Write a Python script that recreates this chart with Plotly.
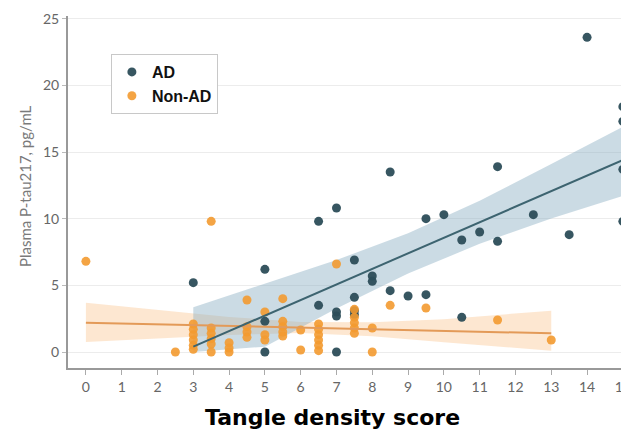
import plotly.graph_objects as go

# ---- data ----
ad_x = [3, 5, 5, 5, 6.5, 6.5, 7, 7, 7, 7, 7.5, 7.5, 7.5, 7.5, 8, 8, 8.5, 8.5, 9, 9.5,
        9.5, 10, 10.5, 10.5, 11, 11.5, 11.5, 12.5, 13.5, 14, 15, 15, 15, 15]
ad_y = [5.2, 6.2, 2.3, 0.0, 3.5, 9.8, 10.8, 3.0, 2.7, 0.0, 6.9, 4.1, 2.8, 3.1, 5.7, 5.3, 4.6, 13.5, 4.2, 4.3,
        10.0, 10.3, 8.4, 2.6, 9.0, 8.3, 13.9, 10.3, 8.8, 23.6, 18.4, 17.3, 13.7, 9.8]

nonad_x = [0, 2.5,
           3, 3, 3, 3, 3, 3,
           3.5, 3.5, 3.5, 3.5, 3.5, 3.5,
           4, 4, 4,
           4.5, 4.5, 4.5, 4.5,
           5, 5, 5,
           5.5, 5.5, 5.5, 5.5, 5.5,
           6, 6,
           6.5, 6.5, 6.5, 6.5, 6.5, 6.5,
           7,
           7.5, 7.5, 7.5, 7.5, 7.5,
           8, 8, 8.5, 9.5, 11.5, 13]
nonad_y = [6.8, 0.0,
           2.1, 1.7, 1.3, 0.9, 0.5, 0.2,
           9.8, 1.8, 1.4, 1.0, 0.6, 0.0,
           0.7, 0.3, 0.0,
           3.9, 1.9, 1.5, 1.1,
           3.0, 1.3, 0.9,
           4.0, 2.3, 1.9, 1.5, 1.2,
           1.65, 0.15,
           2.1, 1.7, 1.3, 0.9, 0.5, 0.1,
           6.6,
           3.2, 2.6, 2.2, 1.8, 1.4,
           1.8, 0.0, 3.5, 3.3, 2.4, 0.9]

# regression lines and confidence bands
ad_fit_x = [3, 5, 7, 9, 11, 13, 15]
ad_fit_y = [0.4, 2.73, 5.07, 7.4, 9.73, 12.07, 14.4]
ad_upper = [3.35, 5.1, 6.9, 8.9, 11.35, 14.1, 16.9]
ad_lower = [0.0, 0.4, 3.27, 5.89, 8.11, 10.02, 11.7]

nonad_fit_x = [0, 2, 4, 6, 8, 10, 12, 13]
nonad_fit_y = [2.2, 2.08, 1.95, 1.83, 1.71, 1.59, 1.46, 1.4]
nonad_upper = [3.7, 3.14, 2.63, 2.25, 2.23, 2.46, 2.85, 3.1]
nonad_lower = [0.75, 1.02, 1.27, 1.42, 1.19, 0.73, 0.3, 0.1]

x_ticks = list(range(0, 16))
y_ticks = [0, 5, 10, 15, 20, 25]

AD_COLOR = "#2c4d59"
NON_COLOR = "#f39a30"

fig = go.Figure()

# bands
fig.add_trace(go.Scatter(x=nonad_fit_x + nonad_fit_x[::-1], y=nonad_upper + nonad_lower[::-1],
                         mode="lines", fill="toself", fillcolor="rgba(250,196,140,0.40)",
                         line=dict(width=0), hoverinfo="skip", showlegend=False))
fig.add_trace(go.Scatter(x=ad_fit_x + ad_fit_x[::-1], y=ad_upper + ad_lower[::-1],
                         mode="lines", fill="toself", fillcolor="rgba(140,175,195,0.45)",
                         line=dict(width=0), hoverinfo="skip", showlegend=False))

# points
fig.add_trace(go.Scatter(x=ad_x, y=ad_y, mode="markers", name="AD",
                         marker=dict(color=AD_COLOR, size=9, opacity=0.95), cliponaxis=False))
fig.add_trace(go.Scatter(x=nonad_x, y=nonad_y, mode="markers", name="Non-AD",
                         marker=dict(color=NON_COLOR, size=9, opacity=0.9), cliponaxis=False))

# fit lines
fig.add_trace(go.Scatter(x=nonad_fit_x, y=nonad_fit_y, mode="lines",
                         line=dict(color="#e39a58", width=2), hoverinfo="skip", showlegend=False))
fig.add_trace(go.Scatter(x=ad_fit_x, y=ad_fit_y, mode="lines",
                         line=dict(color="#3d6470", width=2), hoverinfo="skip", showlegend=False))

# page body adds an 8px offset; size the figure so the plot area lands where the reference has it
fig.update_layout(
    width=621, height=422,
    margin=dict(l=60, r=4, t=8, b=62),
    paper_bgcolor="white", plot_bgcolor="white",
    font=dict(family="Lato, Open Sans, sans-serif", color="#555555"),
    legend=dict(x=0.077, y=0.892, xanchor="left", yanchor="top",
                bgcolor="white", bordercolor="#c8c8c8", borderwidth=1,
                font=dict(family="Arial, Liberation Sans, sans-serif", size=16, color="#111111", weight="bold"),
                tracegroupgap=0),
    showlegend=True,
    annotations=[
        dict(text="Tangle density score", xref="paper", yref="paper", x=0.474, y=-0.1,
             xanchor="center", yanchor="top", showarrow=False,
             font=dict(family="DejaVu Sans, Verdana, sans-serif", size=22,
                       color="#000000", weight=900)),
        dict(text="Plasma P-tau217, pg/mL", xref="paper", yref="paper", x=0, y=0.517,
             xshift=-43, xanchor="center", yanchor="middle", textangle=-90, showarrow=False,
             font=dict(family="Lato, Open Sans, sans-serif", size=15, color="#7a7a7a")),
    ],
)

fig.update_xaxes(range=[-0.5, 15.06], tickmode="array", tickvals=x_ticks,
                 ticktext=[str(t) for t in x_ticks], automargin=False, ticklabeloverflow="allow",
                 showgrid=False, zeroline=False, showline=True, linecolor="#999999", linewidth=2,
                 ticks="outside", ticklen=5, tickcolor="#aaaaaa",
                 tickfont=dict(size=14, color="#666666"))
fig.update_yaxes(range=[-1.2, 25.2], tickmode="array", tickvals=y_ticks,
                 ticktext=[str(t) for t in y_ticks], automargin=False,
                 showgrid=True, gridcolor="#ececec", gridwidth=1, zeroline=False,
                 showline=True, linecolor="#999999", linewidth=2,
                 ticks="outside", ticklen=4, tickcolor="#bbbbbb",
                 tickfont=dict(size=14, color="#666666"))

fig.write_html("out.html")
